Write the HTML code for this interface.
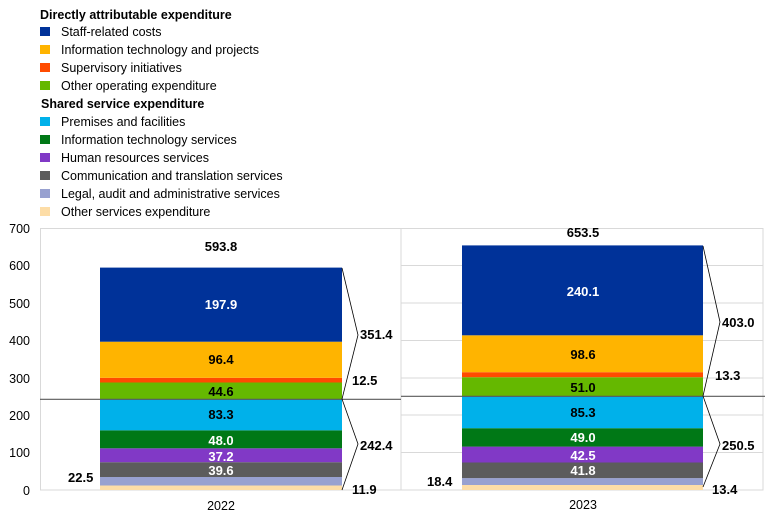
<!DOCTYPE html>
<html><head><meta charset="utf-8"><style>
body{margin:0;background:#fff;}
svg text{font-family:"Liberation Sans",Arial,sans-serif;}
</style></head><body>
<svg width="770" height="520" xmlns="http://www.w3.org/2000/svg">
<g font-size="12.5" fill="#000">
<text x="40" y="19" font-weight="bold">Directly attributable expenditure</text>
<rect x="40" y="27" width="10" height="9" fill="#003299"/><text x="61" y="36">Staff-related costs</text>
<rect x="40" y="45" width="10" height="9" fill="#FFB400"/><text x="61" y="54">Information technology and projects</text>
<rect x="40" y="63" width="10" height="9" fill="#FF4B00"/><text x="61" y="72">Supervisory initiatives</text>
<rect x="40" y="81" width="10" height="9" fill="#65B800"/><text x="61" y="90">Other operating expenditure</text>
<text x="41" y="108" font-weight="bold">Shared service expenditure</text>
<rect x="40" y="117" width="10" height="9" fill="#00B1EA"/><text x="61" y="126">Premises and facilities</text>
<rect x="40" y="135" width="10" height="9" fill="#007816"/><text x="61" y="144">Information technology services</text>
<rect x="40" y="153" width="10" height="9" fill="#8139C6"/><text x="61" y="162">Human resources services</text>
<rect x="40" y="171" width="10" height="9" fill="#5C5C5C"/><text x="61" y="180">Communication and translation services</text>
<rect x="40" y="189" width="10" height="9" fill="#98A1D0"/><text x="61" y="198">Legal, audit and administrative services</text>
<rect x="40" y="207" width="10" height="9" fill="#FDDDA7"/><text x="61" y="216">Other services expenditure</text>
</g>
<g stroke="#d9d9d9" stroke-width="1">
<line x1="401" y1="265.5" x2="763" y2="265.5"/><line x1="401" y1="303" x2="763" y2="303"/>
<line x1="401" y1="340.5" x2="763" y2="340.5"/><line x1="401" y1="378" x2="763" y2="378"/>
<line x1="401" y1="415" x2="763" y2="415"/><line x1="401" y1="452.5" x2="763" y2="452.5"/>
<rect x="40.5" y="228.5" width="360.5" height="261.5" fill="none"/>
<rect x="401" y="228.5" width="362" height="261.5" fill="none"/>
</g>
<g font-size="12.5" fill="#000" text-anchor="end">
<text x="30" y="233">700</text><text x="30" y="270">600</text><text x="30" y="308">500</text>
<text x="30" y="345">400</text><text x="30" y="383">300</text><text x="30" y="420">200</text>
<text x="30" y="457">100</text><text x="30" y="495">0</text>
</g>
<g>
<rect x="100" y="485.5" width="242" height="4.5" fill="#FDDDA7"/>
<rect x="100" y="477" width="242" height="8.5" fill="#98A1D0"/>
<rect x="100" y="462.2" width="242" height="14.8" fill="#5C5C5C"/>
<rect x="100" y="448.3" width="242" height="13.9" fill="#8139C6"/>
<rect x="100" y="430.3" width="242" height="18" fill="#007816"/>
<rect x="100" y="399.2" width="242" height="31.1" fill="#00B1EA"/>
<rect x="100" y="382.5" width="242" height="16.7" fill="#65B800"/>
<rect x="100" y="377.8" width="242" height="4.7" fill="#FF4B00"/>
<rect x="100" y="341.7" width="242" height="36.1" fill="#FFB400"/>
<rect x="100" y="267.6" width="242" height="74.1" fill="#003299"/>
</g>
<g>
<rect x="462" y="485" width="241" height="5" fill="#FDDDA7"/>
<rect x="462" y="478.1" width="241" height="6.9" fill="#98A1D0"/>
<rect x="462" y="462.5" width="241" height="15.6" fill="#5C5C5C"/>
<rect x="462" y="446.6" width="241" height="15.9" fill="#8139C6"/>
<rect x="462" y="428.2" width="241" height="18.4" fill="#007816"/>
<rect x="462" y="396.3" width="241" height="31.9" fill="#00B1EA"/>
<rect x="462" y="377.2" width="241" height="19.1" fill="#65B800"/>
<rect x="462" y="372.2" width="241" height="5" fill="#FF4B00"/>
<rect x="462" y="335.3" width="241" height="36.9" fill="#FFB400"/>
<rect x="462" y="245.4" width="241" height="89.9" fill="#003299"/>
</g>
<line x1="40" y1="399.3" x2="401" y2="399.3" stroke="#595959" stroke-width="1.2"/>
<line x1="401" y1="396.3" x2="765" y2="396.3" stroke="#595959" stroke-width="1.2"/>
<g fill="none" stroke="#000" stroke-width="0.8">
<polyline points="342,268 358,335 342,399"/>
<polyline points="342,399 358,444 342,490"/>
<polyline points="703,246 720,322 703,396"/>
<polyline points="703,396 720,444 703,487"/>
</g>
<g font-size="13" font-weight="bold" text-anchor="middle">
<text x="221" y="309" fill="#fff">197.9</text>
<text x="221" y="364">96.4</text>
<text x="221" y="396">44.6</text>
<text x="221" y="419">83.3</text>
<text x="221" y="445" fill="#fff">48.0</text>
<text x="221" y="461" fill="#fff">37.2</text>
<text x="221" y="475" fill="#fff">39.6</text>
<text x="221" y="251">593.8</text>
<text x="583" y="296" fill="#fff">240.1</text>
<text x="583" y="359">98.6</text>
<text x="583" y="392">51.0</text>
<text x="583" y="417">85.3</text>
<text x="583" y="442" fill="#fff">49.0</text>
<text x="583" y="460" fill="#fff">42.5</text>
<text x="583" y="475" fill="#fff">41.8</text>
<text x="583" y="237">653.5</text>
</g>
<g font-size="13" font-weight="bold">
<text x="360" y="339">351.4</text>
<text x="352" y="385">12.5</text>
<text x="360" y="450">242.4</text>
<text x="352" y="494">11.9</text>
<text x="68" y="482">22.5</text>
<text x="722" y="327">403.0</text>
<text x="715" y="380">13.3</text>
<text x="722" y="450">250.5</text>
<text x="712" y="494">13.4</text>
<text x="427" y="486">18.4</text>
</g>
<g font-size="12.5" text-anchor="middle">
<text x="221" y="510">2022</text>
<text x="583" y="509">2023</text>
</g>
</svg>
</body></html>
